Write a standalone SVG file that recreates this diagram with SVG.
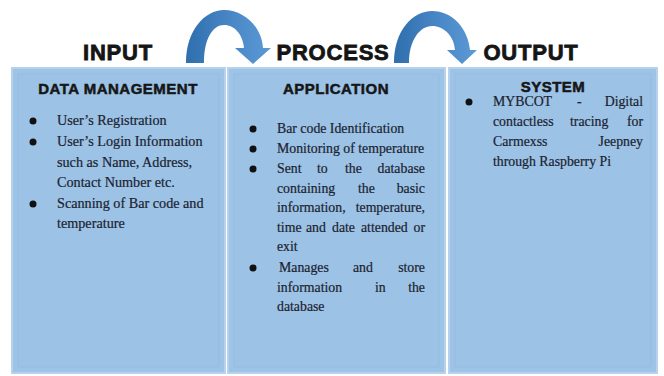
<svg xmlns="http://www.w3.org/2000/svg" width="664" height="376" viewBox="0 0 664 376">
  <style>
    .stage { font-family: "Liberation Sans", Arial, sans-serif; font-weight: 900; font-size: 22px; fill: #151515; stroke: #151515; stroke-width: 0.8; letter-spacing: 0.8px; text-anchor: middle; }
    .title { font-family: "Liberation Sans", Arial, sans-serif; font-weight: 700; font-size: 15px; fill: #161616; stroke: #161616; stroke-width: 0.5; letter-spacing: 0.5px; text-anchor: middle; }
    .body { font-family: "Liberation Serif", "Times New Roman", serif; font-size: 13.8px; fill: #1b2230; stroke: #1b2230; stroke-width: 0.2; }
    .end { text-anchor: end; }
    .panel { fill: #9dc3e7; stroke: #b8d1ec; stroke-width: 2; }
    .inner { fill: #9cc2e6; stroke: #95bbe1; stroke-width: 1; }
    .dot { fill: #111; }
    .flow { fill: url(#arcShade); }
  </style>
  <defs>
    <linearGradient id="arcShade" x1="0" y1="0" x2="1" y2="0">
      <stop offset="0" stop-color="#2f6fae"/>
      <stop offset="0.55" stop-color="#4a87c6"/>
      <stop offset="1" stop-color="#5c9ad6"/>
    </linearGradient>
  </defs>

  <rect width="664" height="376" fill="#ffffff"/>

  <!-- stage headings -->
  <text class="stage" x="118" y="60">INPUT</text>
  <text class="stage" x="333" y="60">PROCESS</text>
  <text class="stage" x="531" y="60">OUTPUT</text>

  <!-- curved arrows between stages -->
  <g id="connectors">
    <path class="flow" d="M186,63 C186,30 205,10 224,10 C245,10 262,28 263,48 L271,48 L253,64 L235,48 L244,48 C243,35 235,25 224,25 C213,25 204,38 204,63 Z"/>
    <path class="flow" d="M394,63 C394,30 413,11 432,11 C452,11 468,28 470,50 L477,50 L462,64 L447,50 L455,50 C454,36 444,26 432,26 C420,26 409,40 409,63 Z"/>
  </g>

  <!-- INPUT: data management -->
  <g id="input">
    <rect class="panel" x="12" y="68" width="213" height="305"/>
    <rect class="inner" x="18" y="74" width="201" height="293"/>
    <text class="title" x="118" y="94">DATA MANAGEMENT</text>
    <circle class="dot" cx="33" cy="121" r="3.5"/>
    <circle class="dot" cx="33" cy="142" r="3.5"/>
    <circle class="dot" cx="33" cy="204" r="3.5"/>
    <g class="body" style="font-size:14.2px">
      <text x="57" y="125">User’s Registration</text>
      <text x="57" y="146">User’s Login Information</text>
      <text x="57" y="167">such as Name, Address,</text>
      <text x="57" y="187">Contact Number etc.</text>
      <text x="57" y="208">Scanning of Bar code and</text>
      <text x="57" y="228">temperature</text>
    </g>
  </g>

  <!-- PROCESS: application -->
  <g id="process">
    <rect class="panel" x="228" y="68" width="217" height="305"/>
    <rect class="inner" x="234" y="74" width="205" height="293"/>
    <text class="title" x="336" y="94">APPLICATION</text>
    <circle class="dot" cx="253" cy="129" r="3.5"/>
    <circle class="dot" cx="253" cy="149" r="3.5"/>
    <circle class="dot" cx="253" cy="169" r="3.5"/>
    <circle class="dot" cx="253" cy="268" r="3.5"/>
    <g class="body">
      <text x="277" y="133">Bar code Identification</text>
      <text x="277" y="153">Monitoring of temperature</text>
      <text y="173"><tspan x="277">Sent</tspan><tspan x="317">to</tspan><tspan x="345">the</tspan></text>
      <text class="end" x="425" y="173">database</text>
      <text y="193"><tspan x="277">containing</tspan><tspan x="358">the</tspan></text>
      <text class="end" x="425" y="193">basic</text>
      <text x="277" y="212">information,</text>
      <text class="end" x="425" y="212">temperature,</text>
      <text y="232"><tspan x="277">time</tspan><tspan x="306">and</tspan><tspan x="332">date</tspan><tspan x="361">attended</tspan></text>
      <text class="end" x="425" y="232">or</text>
      <text x="277" y="251">exit</text>
      <text y="272"><tspan x="279">Manages</tspan><tspan x="353">and</tspan></text>
      <text class="end" x="425" y="272">store</text>
      <text y="292"><tspan x="277">information</tspan><tspan x="375">in</tspan></text>
      <text class="end" x="425" y="292">the</text>
      <text x="277" y="311">database</text>
    </g>
  </g>

  <!-- OUTPUT: system -->
  <g id="output">
    <rect class="panel" x="449" y="68" width="208" height="305"/>
    <rect class="inner" x="455" y="74" width="196" height="293"/>
    <text class="title" x="553" y="92">SYSTEM</text>
    <circle class="dot" cx="469" cy="102" r="3.5"/>
    <g class="body">
      <text y="106"><tspan x="493">MYBCOT</tspan><tspan x="577">-</tspan></text>
      <text class="end" x="643" y="106">Digital</text>
      <text y="126"><tspan x="493">contactless</tspan><tspan x="570">tracing</tspan></text>
      <text class="end" x="643" y="126">for</text>
      <text x="493" y="146">Carmexss</text>
      <text class="end" x="643" y="146">Jeepney</text>
      <text x="493" y="166">through Raspberry Pi</text>
    </g>
  </g>
</svg>
